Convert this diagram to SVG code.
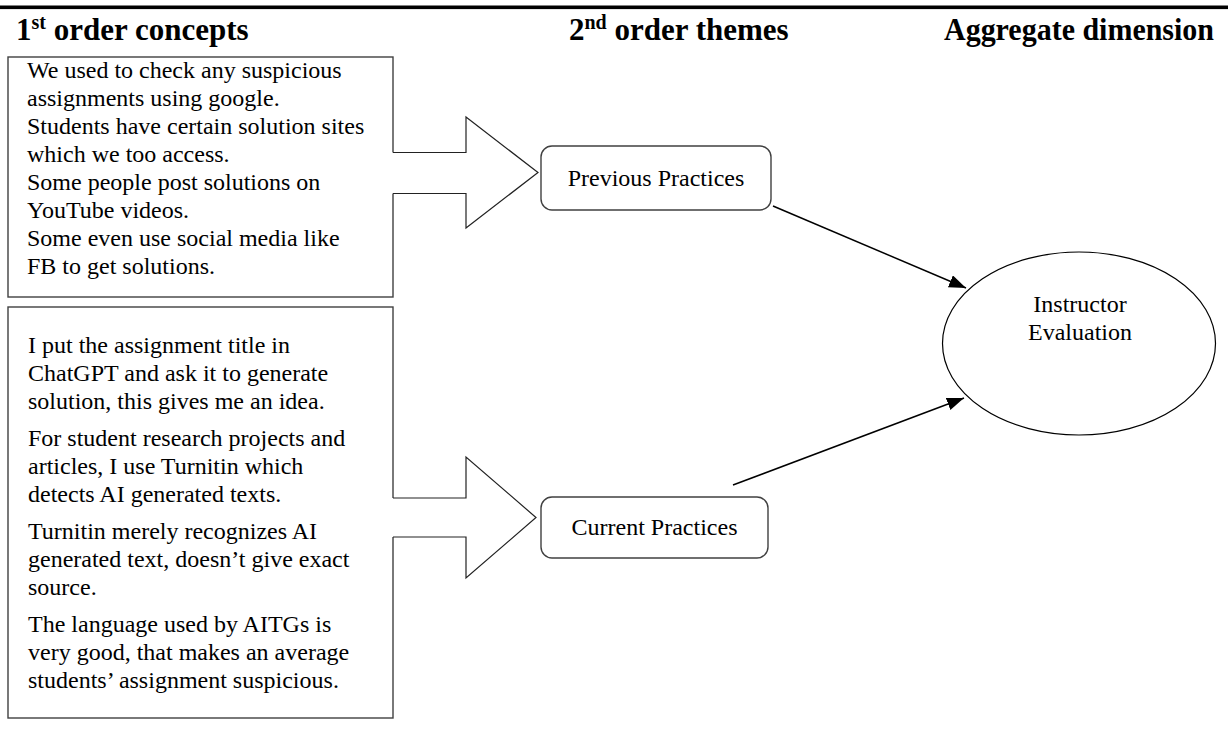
<svg xmlns="http://www.w3.org/2000/svg" width="1228" height="747" viewBox="0 0 1228 747">
  <style>
    .head { font-family: "Liberation Serif", "Times New Roman", serif; font-weight: bold; font-size: 31px; fill: #000; }
    .body { font-family: "Liberation Serif", "Times New Roman", serif; font-size: 24px; fill: #000; }
    .mid { text-anchor: middle; }
    .box { fill: #fff; stroke: #404040; stroke-width: 1.4; }
    .theme { fill: #fff; stroke: #404040; stroke-width: 1.4; }
    .block-fill { fill: #fff; stroke: none; }
    .block-edge { fill: none; stroke: #222; stroke-width: 1.2; stroke-linejoin: miter; }
    .link { stroke: #000; stroke-width: 1.5; fill: none; }
  </style>
  <defs>
    <marker id="head" markerUnits="userSpaceOnUse" markerWidth="18" markerHeight="14" refX="17" refY="6.5" orient="auto">
      <path d="M0,0 L17,6.5 L0,13 z" fill="#000"/>
    </marker>
  </defs>

  <rect width="1228" height="747" fill="#fff"/>

  <!-- top rule and column headings -->
  <rect x="0" y="5.5" width="1228" height="3.6" fill="#000"/>
  <text class="head" x="16" y="40">1<tspan font-size="20" dy="-11">st</tspan><tspan dy="11"> order concepts</tspan></text>
  <text class="head" x="569" y="40">2<tspan font-size="20" dy="-11">nd</tspan><tspan dy="11"> order themes</tspan></text>
  <text class="head" x="944" y="40" textLength="270" lengthAdjust="spacingAndGlyphs">Aggregate dimension</text>

  <!-- first order concepts: previous practices -->
  <g id="concepts-previous">
    <rect class="box" x="8" y="57" width="385" height="240"/>
    <text class="body">
      <tspan x="27" y="78">We used to check any suspicious</tspan>
      <tspan x="27" y="106">assignments using google.</tspan>
      <tspan x="27" y="134">Students have certain solution sites</tspan>
      <tspan x="27" y="162">which we too access.</tspan>
      <tspan x="27" y="190">Some people post solutions on</tspan>
      <tspan x="27" y="218">YouTube videos.</tspan>
      <tspan x="27" y="246">Some even use social media like</tspan>
      <tspan x="27" y="274">FB to get solutions.</tspan>
    </text>
  </g>

  <!-- first order concepts: current practices -->
  <g id="concepts-current">
    <rect class="box" x="8" y="307" width="385" height="411"/>
    <text class="body">
      <tspan x="28" y="353">I put the assignment title in</tspan>
      <tspan x="28" y="381">ChatGPT and ask it to generate</tspan>
      <tspan x="28" y="409">solution, this gives me an idea.</tspan>
      <tspan x="28" y="446">For student research projects and</tspan>
      <tspan x="28" y="474">articles, I use Turnitin which</tspan>
      <tspan x="28" y="502">detects AI generated texts.</tspan>
      <tspan x="28" y="539">Turnitin merely recognizes AI</tspan>
      <tspan x="28" y="567">generated text, doesn’t give exact</tspan>
      <tspan x="28" y="595">source.</tspan>
      <tspan x="28" y="632">The language used by AITGs is</tspan>
      <tspan x="28" y="660">very good, that makes an average</tspan>
      <tspan x="28" y="688">students’ assignment suspicious.</tspan>
    </text>
  </g>

  <!-- block arrows leading out of the concept boxes -->
  <g id="block-arrow-previous">
    <polygon class="block-fill" points="392,152.5 466,152.5 466,117 538,172.5 466,228 466,193.5 392,193.5"/>
    <polyline class="block-edge" points="393,152.5 466,152.5 466,117 538,172.5 466,228 466,193.5 393,193.5"/>
  </g>
  <g id="block-arrow-current">
    <polygon class="block-fill" points="392,498 466,498 466,457 536,517.5 466,578 466,537 392,537"/>
    <polyline class="block-edge" points="393,498 466,498 466,457 536,517.5 466,578 466,537 393,537"/>
  </g>

  <!-- second order themes -->
  <g id="theme-previous">
    <rect class="theme" x="541" y="146" width="230" height="64" rx="11"/>
    <text class="body mid" x="656" y="186">Previous Practices</text>
  </g>
  <g id="theme-current">
    <rect class="theme" x="541" y="497" width="227" height="61" rx="11"/>
    <text class="body mid" x="654.5" y="535">Current Practices</text>
  </g>

  <!-- aggregate dimension -->
  <g id="aggregate">
    <ellipse cx="1079" cy="343.5" rx="136.5" ry="91.5" fill="#fff" stroke="#000" stroke-width="1.2"/>
    <text class="body mid" x="1080" y="312">Instructor</text>
    <text class="body mid" x="1080" y="340">Evaluation</text>
  </g>

  <!-- theme to dimension links -->
  <g id="connectors">
    <line class="link" x1="773" y1="206" x2="966" y2="288" marker-end="url(#head)"/>
    <line class="link" x1="733" y1="485" x2="964" y2="398" marker-end="url(#head)"/>
  </g>
</svg>
